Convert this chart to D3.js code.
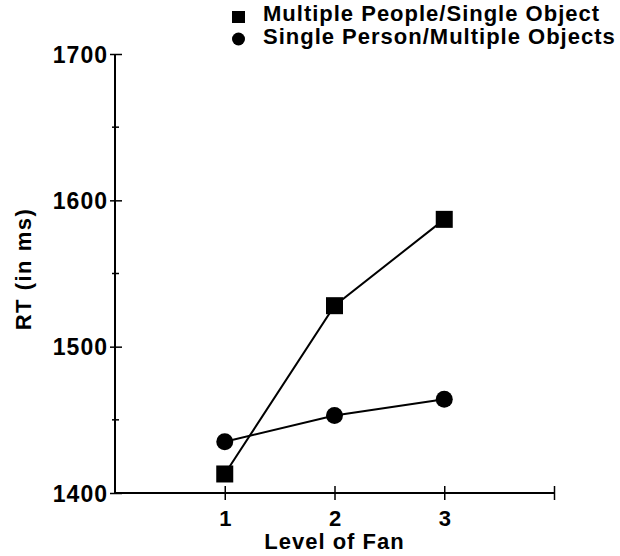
<!DOCTYPE html>
<html>
<head>
<meta charset="utf-8">
<script src="https://cdn.jsdelivr.net/npm/d3@7"></script>
<style>
  body { margin: 0; background: #fff; }
  svg text { font-family: "Liberation Sans", Arial, sans-serif; font-weight: bold; fill: #000; }
</style>
</head>
<body>
<div id="chart"></div>
<script>
// data
const fanLevels = [1, 2, 3];
const multiplePeople = [1413, 1528, 1587];
const singlePerson = [1435, 1453, 1464];
const seriesNames = ["Multiple People/Single Object", "Single Person/Multiple Objects"];
const yTicks = [1400, 1500, 1600, 1700];
const yMinorTicks = [1450, 1550, 1650];
const xTicks = [1, 2, 3, 4];

const width = 620, height = 556;
const svg = d3.select("#chart").append("svg")
  .attr("width", width)
  .attr("height", height);

// scales
const x = d3.scaleLinear().domain([0, 4]).range([115, 554]);
const y = d3.scaleLinear().domain([1400, 1700]).range([493, 54]);

// y axis
const yAxis = svg.append("g")
  .attr("transform", `translate(${x(0)},0)`)
  .call(d3.axisLeft(y).tickValues(yTicks).tickSize(6).tickFormat(d3.format("d")));
yAxis.select(".domain").attr("d", `M0,${y(1700)}V${y(1400)}`).attr("stroke-width", 2);
yAxis.selectAll(".tick line").attr("x1", -5).attr("x2", 7).attr("stroke-width", 1.5);
yAxis.selectAll(".tick text")
  .attr("x", -7).attr("dy", "0.36em")
  .style("font-size", "23px").style("letter-spacing", "1px")
  .attr("font-family", null).attr("font-size", null);

// minor ticks
svg.append("g").selectAll("line")
  .data(yMinorTicks)
  .join("line")
  .attr("x1", x(0) - 3).attr("x2", x(0) + 4)
  .attr("y1", d => y(d)).attr("y2", d => y(d))
  .attr("stroke", "#000").attr("stroke-width", 1.5);

// x axis
const xAxis = svg.append("g")
  .attr("transform", `translate(0,${y(1400)})`)
  .call(d3.axisBottom(x).tickValues(xTicks).tickSize(7).tickFormat(d => d < 4 ? d : ""));
xAxis.select(".domain").attr("d", `M${x(0)},0H${x(4)}`).attr("stroke-width", 2);
xAxis.selectAll(".tick line").attr("y1", -7).attr("stroke-width", 1.5);
xAxis.selectAll(".tick text")
  .attr("y", 33).attr("dy", null)
  .style("font-size", "22px")
  .attr("font-family", null).attr("font-size", null);

// axis titles
svg.append("text")
  .attr("x", x(2)).attr("y", 549)
  .attr("text-anchor", "middle")
  .style("font-size", "22px").style("letter-spacing", "1px")
  .text("Level of Fan");

svg.append("text")
  .attr("transform", "translate(31,269) rotate(-90)")
  .attr("text-anchor", "middle")
  .style("font-size", "22px").style("letter-spacing", "1.5px")
  .text("RT (in ms)");

// lines
const line = d3.line()
  .x((d, i) => x(fanLevels[i]))
  .y(d => y(d));

svg.append("path")
  .datum(multiplePeople)
  .attr("d", line)
  .attr("fill", "none").attr("stroke", "#000").attr("stroke-width", 2);

svg.append("path")
  .datum(singlePerson)
  .attr("d", line)
  .attr("fill", "none").attr("stroke", "#000").attr("stroke-width", 2);

// markers
const sq = 17;
svg.append("g").selectAll("rect")
  .data(multiplePeople)
  .join("rect")
  .attr("x", (d, i) => x(fanLevels[i]) - sq / 2)
  .attr("y", d => y(d) - sq / 2)
  .attr("width", sq).attr("height", sq)
  .attr("fill", "#000");

svg.append("g").selectAll("circle")
  .data(singlePerson)
  .join("circle")
  .attr("cx", (d, i) => x(fanLevels[i]))
  .attr("cy", d => y(d))
  .attr("r", 8.5)
  .attr("fill", "#000");

// legend
const legend = svg.append("g");
legend.append("rect")
  .attr("x", 232).attr("y", 11).attr("width", 13).attr("height", 12)
  .attr("fill", "#000");
legend.append("circle")
  .attr("cx", 238.5).attr("cy", 39).attr("r", 6.5)
  .attr("fill", "#000");
legend.selectAll("text")
  .data(seriesNames)
  .join("text")
  .attr("x", 263)
  .attr("y", (d, i) => 21 + i * 23)
  .style("font-size", "22px").style("letter-spacing", "1px")
  .text(d => d);
</script>
</body>
</html>
